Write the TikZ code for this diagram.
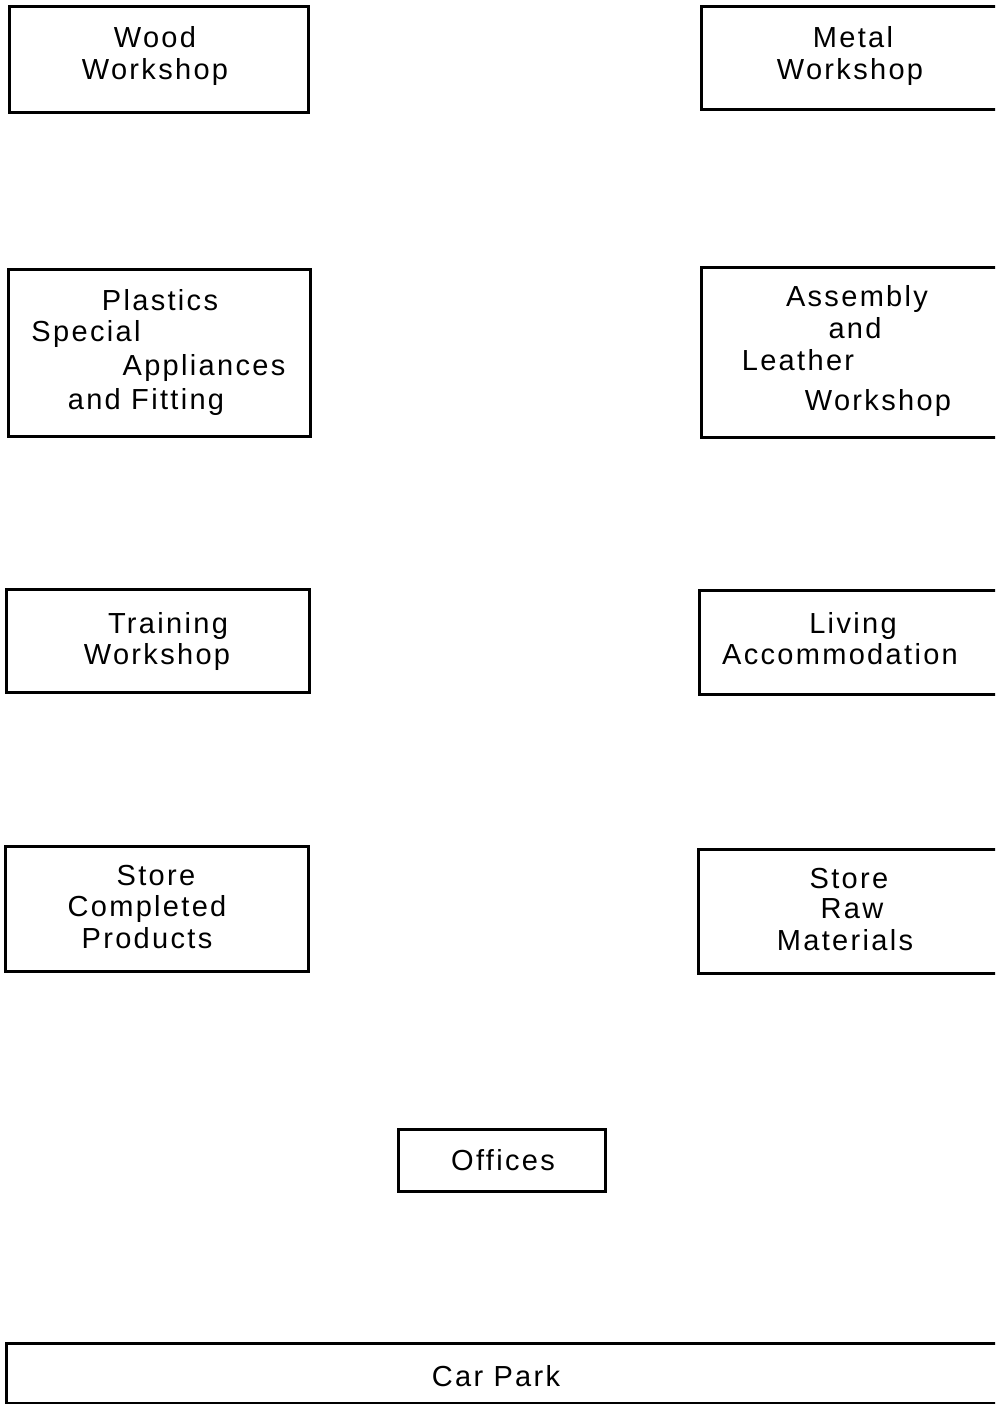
\documentclass[tikz,border=0pt]{standalone}
\usepackage{fontspec}
\setmainfont{Liberation Sans}[LetterSpace=8]
\begin{document}
\begin{tikzpicture}[x=1pt,y=-1pt,
  roombox/.style={draw, line width=2.6pt, anchor=north west, inner sep=0pt},
  lbl/.style={anchor=base, inner sep=0pt, font=\fontsize{29}{32}\selectfont}]
\useasboundingbox (0,0) rectangle (995,1404);
\clip (0,0) rectangle (995,1404);
% boxes
\node[roombox, minimum width=299pt, minimum height=106pt] (wood) at (8,5) {};
\node[roombox, minimum width=310pt, minimum height=103pt] (metal) at (700,5) {};
\node[roombox, minimum width=302pt, minimum height=167pt] (plastics) at (7,268) {};
\node[roombox, minimum width=310pt, minimum height=170pt] (assembly) at (700,266) {};
\node[roombox, minimum width=303pt, minimum height=103pt] (training) at (5,588) {};
\node[roombox, minimum width=312pt, minimum height=104pt] (living) at (698,589) {};
\node[roombox, minimum width=303pt, minimum height=125pt] (storecp) at (4,845) {};
\node[roombox, minimum width=313pt, minimum height=124pt] (storerm) at (697,848) {};
\node[roombox, minimum width=207pt, minimum height=62pt] (offices) at (397,1128) {};
\node[roombox, minimum width=1005pt, minimum height=60pt] (carpark) at (5,1342) {};
% texts
\node[lbl] (t1a) at (155,48) {Wood};
\node[lbl] (t1b) at (155,80) {Workshop};
\node[lbl] (t2a) at (853,48) {Metal};
\node[lbl] (t2b) at (850,80) {Workshop};
\node[lbl] (t3a) at (160,310) {Plastics};
\node[lbl] (t3b) at (86,341) {Special};
\node[lbl] (t3c) at (204,375) {Appliances};
\node[lbl] (t3d) at (146,409) {and Fitting};
\node[lbl] (t4a) at (857,307) {Assembly};
\node[lbl] (t4b) at (855,338) {and};
\node[lbl] (t4c) at (798,370) {Leather};
\node[lbl] (t4d) at (878,410) {Workshop};
\node[lbl] (t5a) at (168,633) {Training};
\node[lbl] (t5b) at (157,664) {Workshop};
\node[lbl] (t6a) at (853,633) {Living};
\node[lbl] (t6b) at (840,664) {Accommodation};
\node[lbl] (t7a) at (156,885) {Store};
\node[lbl] (t7b) at (147,916) {Completed};
\node[lbl] (t7c) at (147,948) {Products};
\node[lbl] (t8a) at (849,888) {Store};
\node[lbl] (t8b) at (852,918) {Raw};
\node[lbl] (t8c) at (845,950) {Materials};
\node[lbl] (t9) at (503,1170) {Offices};
\node[lbl] (t10) at (496,1386) {Car Park};
\end{tikzpicture}
\end{document}
